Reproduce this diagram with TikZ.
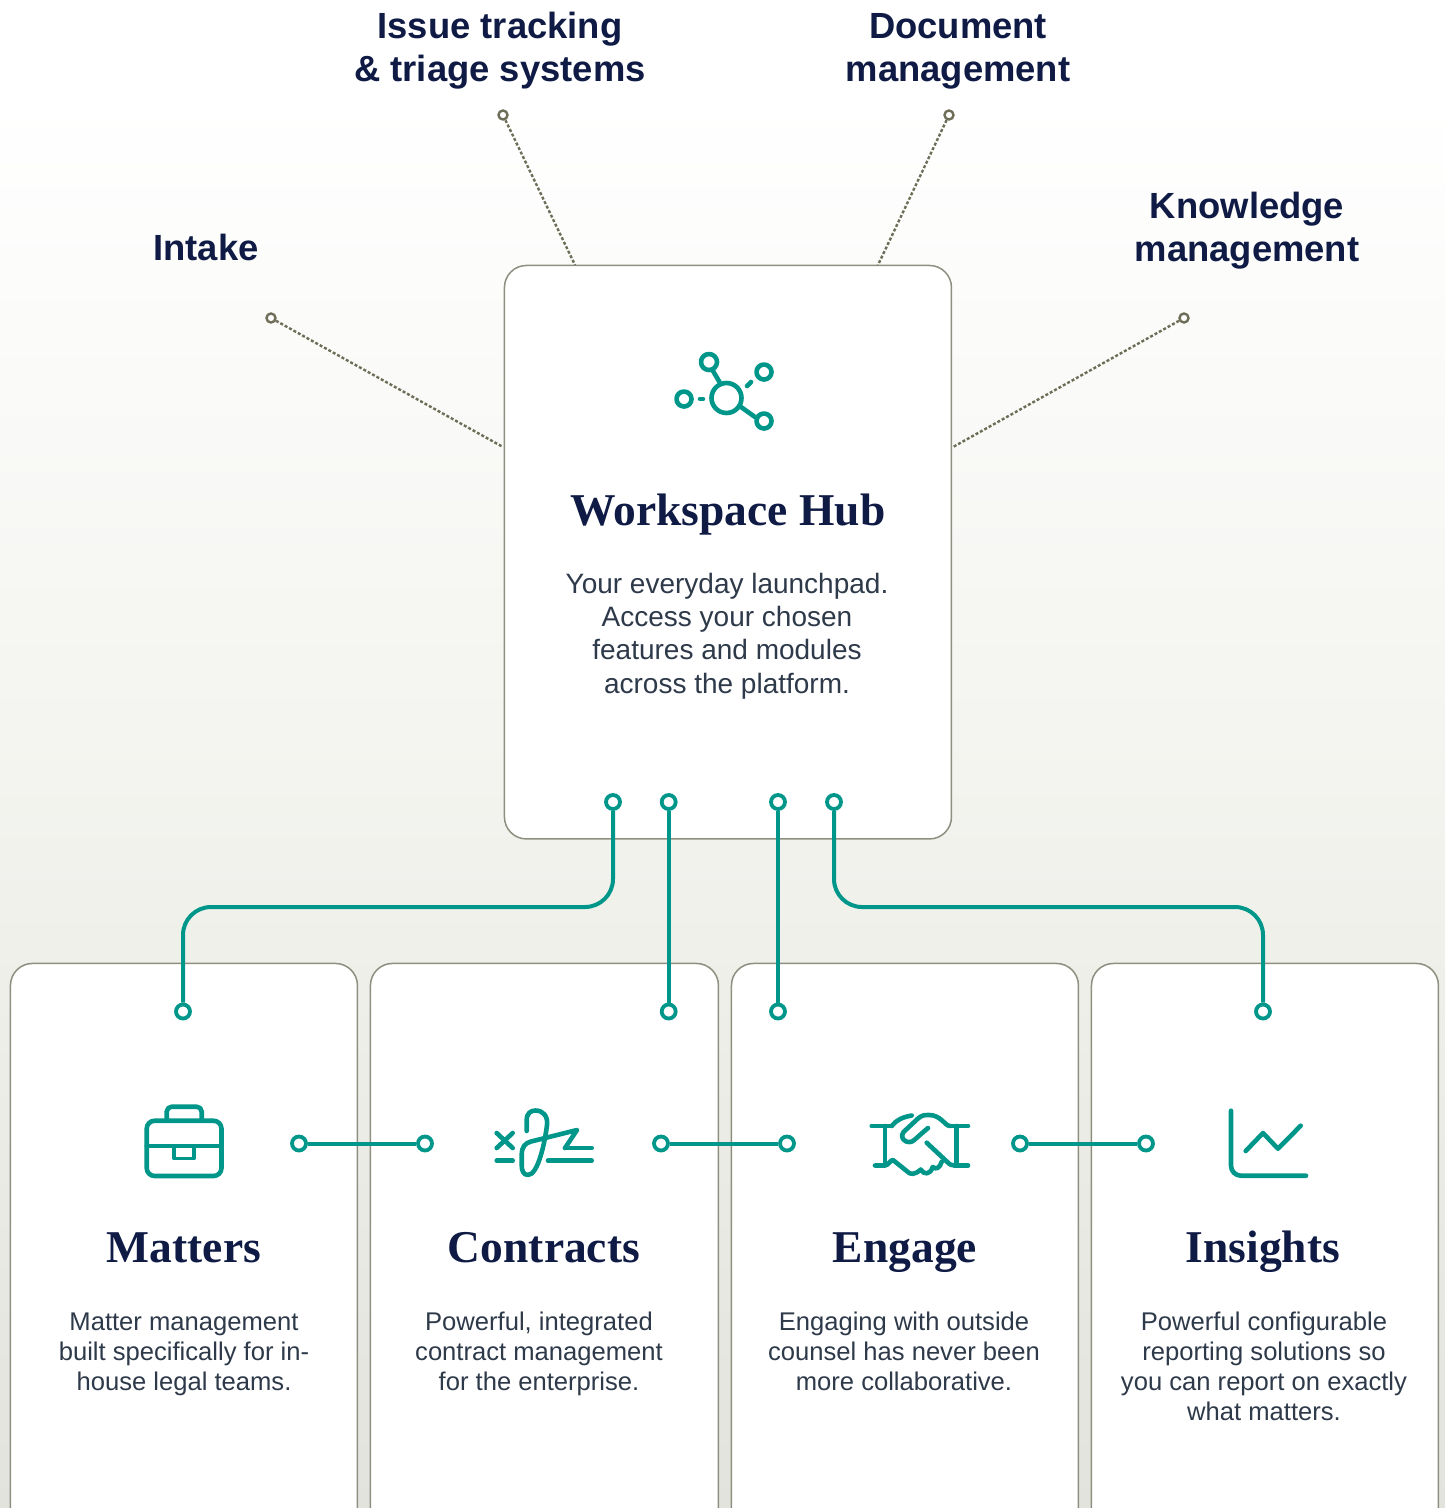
\documentclass[tikz,border=0pt]{standalone}
\usepackage{fontspec}
\setmainfont{Liberation Sans}
\newfontfamily\titlefont{Liberation Serif}
\definecolor{tealc}{HTML}{00978A}
\definecolor{navy}{HTML}{0F1B45}
\definecolor{bodyc}{HTML}{2E3A4A}
\definecolor{edgec}{HTML}{8F8F80}
\definecolor{dashc}{HTML}{6E6E58}
\definecolor{bgmid}{HTML}{F1F1EC}
\definecolor{bgend}{HTML}{E3E3DE}
\tikzset{
  cardbox/.style={draw=edgec,fill=white,line width=1.5pt,rounded corners=22pt,anchor=north west,inner sep=0pt},
  toplabel/.style={font=\fontsize{36.4}{43}\selectfont\bfseries,text=navy,align=center,inner sep=0pt},
  cardtitle/.style={font=\titlefont\fontsize{45.5}{50}\selectfont\bfseries,text=navy,inner sep=0pt,anchor=base},
  hubbody/.style={font=\fontsize{28}{33.4}\selectfont,text=bodyc,align=center,inner sep=0pt},
  cardbody/.style={font=\fontsize{25.6}{30}\selectfont,text=bodyc,align=center,inner sep=0pt},
  tealdot/.style={circle,draw=tealc,fill=white,line width=3.8pt,minimum size=14pt,inner sep=0pt},
  graydot/.style={circle,draw=dashc,fill=white,line width=2.4pt,minimum size=9pt,inner sep=0pt},
  tealline/.style={draw=tealc,line width=4pt},
  dashline/.style={draw=dashc,line width=2.4pt,dash pattern=on 3pt off 2pt},
  iconline/.style={draw=tealc,line width=4.6pt,line cap=round,line join=round},
}
\begin{document}
\begin{tikzpicture}[x=1pt,y=-1pt]
\clip (0,0) rectangle (1445,1508);
% background
\fill[white] (0,0) rectangle (1445,100);
\shade[top color=white,bottom color=bgmid] (0,100) rectangle (1445,900);
\shade[top color=bgmid,bottom color=bgend] (0,900) rectangle (1445,1508);
% cards
\node[cardbox,minimum width=447pt,minimum height=573.5pt] (hub) at (503.7,264.7) {};
\node[cardbox,minimum width=347pt,minimum height=600pt] (c1) at (9.7,962.7) {};
\node[cardbox,minimum width=348pt,minimum height=600pt] (c2) at (369.7,962.7) {};
\node[cardbox,minimum width=347pt,minimum height=600pt] (c3) at (730.7,962.7) {};
\node[cardbox,minimum width=347pt,minimum height=600pt] (c4) at (1090.7,962.7) {};
% top labels
\node[toplabel] (l1) at (206,247) {Intake};
\node[toplabel] (l2) at (500,51) {Issue tracking\\\& triage systems};
\node[toplabel] (l3) at (958,51) {Document\\management};
\node[toplabel] (l4) at (1247,231) {Knowledge\\management};
% gray connectors
\node[graydot] (g1) at (271,318) {};
\node[graydot] (g2) at (503,115) {};
\node[graydot] (g3) at (949,115) {};
\node[graydot] (g4) at (1184,318) {};
\coordinate (h1) at (503,447);
\coordinate (h2) at (575,265);
\coordinate (h3) at (878,265);
\coordinate (h4) at (953,447);
\draw[dashline] (g1) -- (h1);
\draw[dashline] (g2) -- (h2);
\draw[dashline] (g3) -- (h3);
\draw[dashline] (g4) -- (h4);
% hub text
\node[cardtitle] (hubt) at (728,525) {Workspace Hub};
\node[hubbody] (hubb) at (727,636) {Your everyday launchpad.\\Access your chosen\\features and modules\\across the platform.};
% hub icon
\draw[iconline] (726.5,398) circle (15);
\draw[iconline] (709,362) circle (8);
\draw[iconline] (764,372) circle (7.5);
\draw[iconline] (684,399) circle (7.5);
\draw[iconline] (764,421) circle (7.5);
\draw[iconline] (713,371) -- (719.5,382);
\draw[iconline] (741,407) -- (755,417);
\draw[iconline] (747,386) -- (751,382);
\draw[iconline] (700,399) -- (703,399);
% teal connectors
\node[tealdot] (d1) at (613,802) {};
\node[tealdot] (d2) at (668.7,802) {};
\node[tealdot] (d3) at (778,802) {};
\node[tealdot] (d4) at (834,802) {};
\node[tealdot] (t1) at (183,1011.5) {};
\node[tealdot] (t2) at (668.7,1011.5) {};
\node[tealdot] (t3) at (778,1011.5) {};
\node[tealdot] (t4) at (1263,1011.5) {};
\coordinate (row) at (0,907);
\draw[tealline,rounded corners=28pt] (d1.south) -- (d1|-row) -- (t1|-row) -- (t1.north);
\draw[tealline] (d2) -- (t2);
\draw[tealline] (d3) -- (t3);
\draw[tealline,rounded corners=28pt] (d4.south) -- (d4|-row) -- (t4|-row) -- (t4.north);
\node[tealdot] (a1) at (299,1143.5) {};
\node[tealdot] (a2) at (425,1143.5) {};
\node[tealdot] (b1) at (661,1143.5) {};
\node[tealdot] (b2) at (787,1143.5) {};
\node[tealdot] (e1) at (1020,1143.5) {};
\node[tealdot] (e2) at (1146,1143.5) {};
\draw[tealline] (a1) -- (a2);
\draw[tealline] (b1) -- (b2);
\draw[tealline] (e1) -- (e2);
% briefcase
\draw[iconline,rounded corners=8pt] (146.7,1120.7) rectangle (221.5,1176);
\draw[iconline,rounded corners=5pt] (166.7,1120.7) -- (166.7,1106.7) -- (201.7,1106.7) -- (201.7,1120.7);
\draw[iconline] (146.7,1146) -- (221.5,1146);
\draw[iconline,line width=3.8pt] (174,1146) -- (174,1158.5) -- (194,1158.5) -- (194,1146);
% signature
\draw[iconline] (496.7,1133) -- (512.7,1148);
\draw[iconline] (512.7,1133) -- (496.7,1148);
\draw[iconline] (496.7,1160.7) -- (512.7,1160.7);
\draw[iconline] (548,1160.7) -- (591.7,1160.7);
\draw[iconline] (565,1148) -- (591.7,1148);
\draw[iconline] (526.7,1131) -- (526.7,1120) .. controls (526.7,1113) and (531,1110.5) .. (535.5,1110.5)
  .. controls (543,1110.5) and (548,1116) .. (547,1125)
  .. controls (545,1142) and (538,1175) .. (528,1175)
  .. controls (523,1175) and (521.7,1170) .. (521.7,1165)
  -- (521.7,1155) .. controls (521.7,1147) and (525,1143) .. (531,1141.5)
  -- (577,1130) -- (565,1148);
% handshake
\draw[iconline] (871.7,1126) -- (891.7,1126);
\draw[iconline] (885,1126) -- (885,1165);
\draw[iconline] (875,1165.5) -- (885,1165.5) .. controls (888,1165.5) and (890,1160) .. (893,1160)
  -- (906.7,1171) .. controls (910,1175) and (915,1175) .. (920.7,1169.5)
  .. controls (924,1175) and (930,1175) .. (932.7,1167)
  .. controls (936,1170) and (940,1168) .. (941.7,1161.7);
\draw[iconline] (891.7,1126) .. controls (896,1120) and (903,1117) .. (911.7,1115.5);
\draw[iconline] (950,1126) -- (968,1126);
\draw[iconline] (956.7,1126) -- (956.7,1165);
\draw[iconline] (955,1165.5) -- (968,1165.5);
\draw[iconline] (947,1161.7) .. controls (950,1165) and (952,1165.5) .. (955,1165.5);
\draw[iconline] (950,1126) .. controls (945,1126) and (941,1115) .. (929,1115)
  .. controls (925,1115) and (922,1115) .. (918,1118.5)
  -- (903.5,1132) .. controls (900,1136) and (903,1142.5) .. (910,1142)
  .. controls (913,1142) and (915,1139) .. (928,1128);
\draw[iconline] (926.7,1142.7) -- (947,1161.7);
% chart
\draw[iconline,rounded corners=10pt] (1231,1110.7) -- (1231,1175.7) -- (1306,1175.7);
\draw[iconline] (1245.7,1151) -- (1263,1133) -- (1278,1148.7) -- (1300.7,1125.7);
% card text
\node[cardtitle] (t1t) at (184,1262) {Matters};
\node[cardtitle] (t2t) at (544,1262) {Contracts};
\node[cardtitle] (t3t) at (905,1262) {Engage};
\node[cardtitle] (t4t) at (1263,1262) {Insights};
\node[cardbody] (t1b) at (184,1354) {Matter management\\built specifically for in-\\house legal teams.};
\node[cardbody] (t2b) at (539,1354) {Powerful, integrated\\contract management\\for the enterprise.};
\node[cardbody] (t3b) at (904,1351) {Engaging with outside\\counsel has never been\\more collaborative.};
\node[cardbody] (t4b) at (1264,1366) {Powerful configurable\\reporting solutions so\\you can report on exactly\\what matters.};
\end{tikzpicture}
\end{document}
